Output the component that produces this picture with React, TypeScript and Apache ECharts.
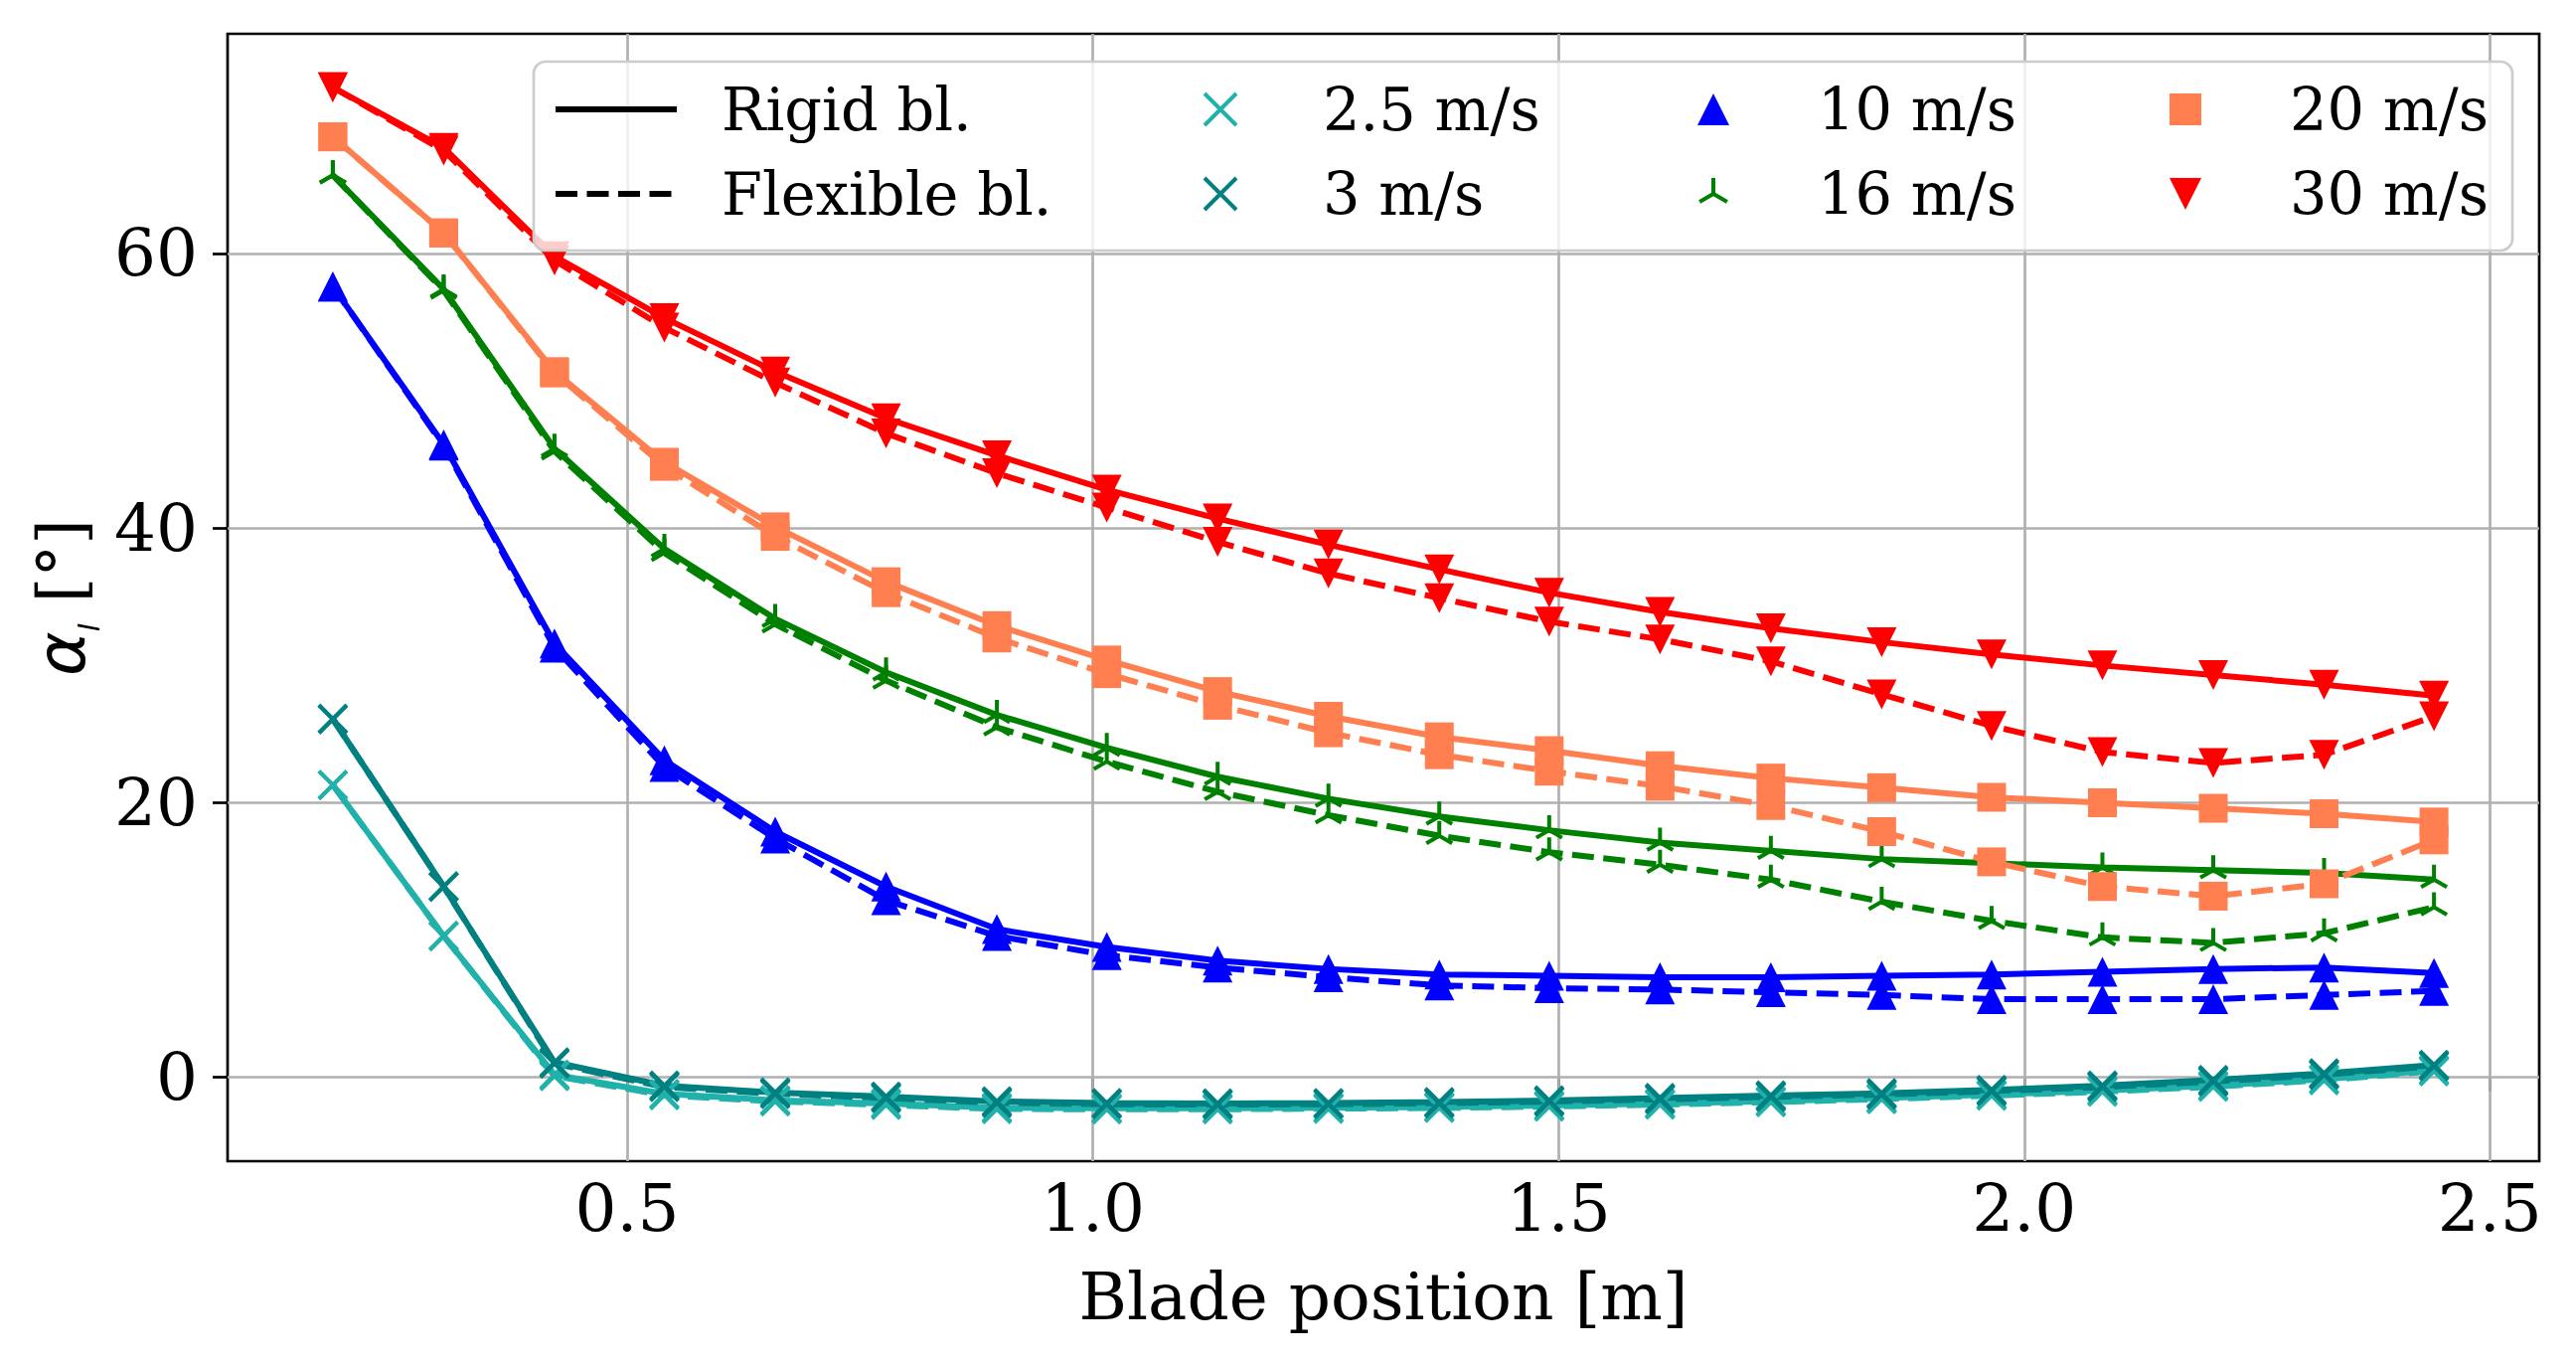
import React, { useEffect, useRef } from 'react'
import * as echarts from 'echarts'

// radial stations along the blade [m]
const bladePositions = [
  0.184, 0.303, 0.422, 0.54, 0.659, 0.778, 0.897, 1.015, 1.134, 1.253,
  1.372, 1.49, 1.609, 1.728, 1.847, 1.965, 2.084, 2.203, 2.322, 2.44
]

// local angle of attack [deg], rigid vs flexible blade
const rigid2_5 = [21.3, 10.3, 0.2, -1.2, -1.66, -1.9, -2.2, -2.24, -2.24, -2.2, -2.15, -2.04, -1.9, -1.73, -1.5, -1.25, -0.96, -0.6, -0.12, 0.53]
const flexible2_5 = [21.3, 10.3, 0.1, -1.3, -1.75, -2.0, -2.3, -2.32, -2.32, -2.28, -2.22, -2.12, -1.98, -1.8, -1.58, -1.33, -1.04, -0.68, -0.2, 0.45]
const rigid3 = [26.1, 13.9, 1.1, -0.6, -1.1, -1.4, -1.75, -1.87, -1.9, -1.87, -1.8, -1.68, -1.5, -1.32, -1.15, -0.91, -0.6, -0.19, 0.29, 0.91]
const flexible3 = [26.1, 13.9, 1.0, -0.7, -1.2, -1.5, -1.85, -1.95, -1.98, -1.95, -1.88, -1.76, -1.6, -1.42, -1.25, -1.0, -0.7, -0.3, 0.2, 0.82]
const rigid10 = [57.6, 46.1, 31.6, 23.1, 17.9, 13.9, 10.8, 9.5, 8.5, 7.9, 7.5, 7.4, 7.3, 7.3, 7.4, 7.5, 7.7, 7.9, 8.0, 7.6]
const flexible10 = [57.6, 46.0, 31.3, 22.6, 17.4, 12.9, 10.3, 8.9, 8.0, 7.3, 6.7, 6.5, 6.4, 6.2, 6.0, 5.7, 5.7, 5.7, 6.0, 6.3]
const rigid16 = [65.7, 57.4, 45.8, 38.5, 33.4, 29.5, 26.4, 24.0, 21.9, 20.3, 19.0, 18.0, 17.1, 16.5, 15.9, 15.6, 15.3, 15.1, 14.9, 14.4]
const flexible16 = [65.7, 57.3, 45.6, 38.2, 33.0, 28.9, 25.5, 23.0, 20.8, 19.1, 17.6, 16.4, 15.5, 14.4, 12.8, 11.4, 10.2, 9.8, 10.5, 12.4]
const rigid20 = [68.5, 61.5, 51.4, 44.8, 40.1, 36.1, 32.9, 30.4, 28.1, 26.3, 24.8, 23.8, 22.7, 21.8, 21.1, 20.4, 20.0, 19.6, 19.2, 18.6]
const flexible20 = [68.5, 61.5, 51.3, 44.5, 39.4, 35.3, 32.0, 29.4, 27.1, 25.1, 23.5, 22.3, 21.2, 19.8, 17.9, 15.7, 13.9, 13.2, 14.1, 17.3]
const rigid30 = [72.1, 67.7, 59.8, 55.3, 51.4, 48.0, 45.3, 42.8, 40.7, 38.8, 37.0, 35.3, 33.9, 32.7, 31.7, 30.8, 30.0, 29.3, 28.6, 27.8]
const flexible30 = [72.1, 67.5, 59.5, 54.6, 50.6, 46.9, 44.0, 41.5, 39.0, 36.7, 34.9, 33.2, 31.9, 30.3, 27.9, 25.6, 23.7, 22.9, 23.5, 26.3]

const xTickValues = [0.5, 1.0, 1.5, 2.0, 2.5]
const yTickValues = [0, 20, 40, 60]

const SERIF = 'DejaVu Serif'
const LINE_W = 6
const DASH = [22, 9.5]

// matplotlib-like markers
const MARK_X = 'path://M0,0L10,10M0,10L10,0'
const MARK_TRI_UP = 'path://M0,0M10,10M5,5L5,0M5,5L0.67,7.5M5,5L9.33,7.5'
const MARK_UP = 'path://M5,0L10,10L0,10Z'
const MARK_DOWN = 'path://M0,0L10,0L5,10Z'
const MARK_SQUARE = 'path://M0,0L10,0L10,10L0,10Z'

const speedRuns = [
  { label: '2.5 m/s', rigid: rigid2_5, flexible: flexible2_5 },
  { label: '3 m/s', rigid: rigid3, flexible: flexible3 },
  { label: '10 m/s', rigid: rigid10, flexible: flexible10 },
  { label: '16 m/s', rigid: rigid16, flexible: flexible16 },
  { label: '20 m/s', rigid: rigid20, flexible: flexible20 },
  { label: '30 m/s', rigid: rigid30, flexible: flexible30 }
]

const speedStyles: Record<string, { color: string; marker: string; size: number; edge: number }> = {
  '2.5 m/s': { color: '#20b2aa', marker: MARK_X, size: 28, edge: 4 },
  '3 m/s': { color: '#008080', marker: MARK_X, size: 28, edge: 4 },
  '10 m/s': { color: '#0000ff', marker: MARK_UP, size: 30, edge: 0 },
  '16 m/s': { color: '#008000', marker: MARK_TRI_UP, size: 30, edge: 4 },
  '20 m/s': { color: '#ff7f50', marker: MARK_SQUARE, size: 29, edge: 0 },
  '30 m/s': { color: '#ff0000', marker: MARK_DOWN, size: 30, edge: 0 }
}

const toPairs = (ys: number[]) => bladePositions.map((x, i) => [x, ys[i]])

const legendText = {
  fontFamily: SERIF,
  fontSize: 59,
  lineHeight: 60,
  color: '#000'
}

const markerLegend = (left: number, pad: number, names: string[]) => ({
  orient: 'vertical',
  left,
  top: 80,
  padding: 0,
  itemWidth: 32,
  itemHeight: 32,
  itemGap: 25,
  selectedMode: false,
  textStyle: { ...legendText, padding: [0, 0, 0, pad] },
  data: names.map((n) => {
    const s = speedStyles[n]
    return {
      name: n,
      icon: s.marker,
      itemStyle: { color: s.color, borderColor: s.color, borderWidth: s.edge, opacity: 1 }
    }
  })
})

const App: React.FC = () => {
  const chartRef = useRef<HTMLDivElement>(null)

  useEffect(() => {
    if (!chartRef.current) return
    const chart = echarts.init(chartRef.current, undefined, { renderer: 'svg' })

    const dataSeries = speedRuns.flatMap((run) => {
      const s = speedStyles[run.label]
      return [run.rigid, run.flexible].map((ys, k) => ({
        type: 'line',
        name: run.label,
        data: toPairs(ys),
        symbol: s.marker,
        symbolSize: s.size,
        z: 3,
        lineStyle: { color: s.color, width: LINE_W, type: k === 0 ? 'solid' : DASH },
        itemStyle: { color: s.color, borderColor: s.color, borderWidth: s.edge },
        emphasis: { disabled: true }
      }))
    })

    const option = {
      animation: false,
      backgroundColor: '#ffffff',
      textStyle: { fontFamily: SERIF },
      grid: {
        left: 229,
        right: 37,
        top: 34,
        bottom: 204,
        show: true,
        borderColor: '#000',
        borderWidth: 2.7,
        backgroundColor: 'transparent'
      },
      xAxis: {
        type: 'value',
        min: 0.071,
        max: 2.553,
        name: 'Blade position [m]',
        nameLocation: 'middle',
        nameGap: 103,
        nameTextStyle: { fontFamily: SERIF, fontSize: 66, lineHeight: 66, color: '#000' },
        axisLine: { show: false },
        splitLine: { show: false },
        axisTick: {
          show: true,
          customValues: xTickValues,
          length: 14,
          lineStyle: { color: '#000', width: 2.7 }
        },
        axisLabel: {
          customValues: xTickValues,
          formatter: (v: number) => v.toFixed(1),
          fontFamily: SERIF,
          fontSize: 66,
          lineHeight: 66,
          color: '#000',
          margin: 14
        }
      },
      yAxis: {
        type: 'value',
        min: -6.1,
        max: 76.0,
        name: '{a|α}{b|l}{c| [°]}',
        nameLocation: 'middle',
        nameGap: 132,
        nameTextStyle: {
          fontFamily: SERIF,
          fontSize: 66,
          color: '#000',
          rich: {
            a: { fontFamily: 'DejaVu Sans', fontStyle: 'italic', fontSize: 68, lineHeight: 66 },
            b: { fontFamily: 'DejaVu Sans', fontStyle: 'italic', fontSize: 28, lineHeight: 28, padding: [58, 0, 0, 0] },
            c: { fontFamily: SERIF, fontSize: 66, lineHeight: 66 }
          }
        },
        axisLine: { show: false },
        splitLine: { show: false },
        axisTick: {
          show: true,
          customValues: yTickValues,
          length: 15,
          lineStyle: { color: '#000', width: 2.7 }
        },
        axisLabel: {
          customValues: yTickValues,
          formatter: (v: number) => String(Math.round(v)),
          fontFamily: SERIF,
          fontSize: 66,
          color: '#000',
          margin: 30
        }
      },
      legend: [
        {
          orient: 'vertical',
          left: 556,
          top: 80,
          padding: 0,
          itemWidth: 122,
          itemHeight: 32,
          itemGap: 25,
          selectedMode: false,
          textStyle: { ...legendText, padding: [0, 0, 0, 40] },
          data: [
            { name: 'Rigid bl.', itemStyle: { opacity: 0 }, lineStyle: { color: '#000', width: LINE_W, type: 'solid' } },
            { name: 'Flexible bl.', itemStyle: { opacity: 0 }, lineStyle: { color: '#000', width: LINE_W, type: DASH } }
          ]
        },
        markerLegend(1210, 82, ['2.5 m/s', '3 m/s']),
        markerLegend(1706, 84, ['10 m/s', '16 m/s']),
        markerLegend(2183, 84, ['20 m/s', '30 m/s'])
      ],
      graphic: [
        {
          type: 'rect',
          z: 4,
          silent: true,
          shape: { x: 537, y: 62, width: 1991, height: 190, r: 12 },
          style: { fill: 'rgba(255,255,255,0.8)', stroke: '#cccccc', lineWidth: 2.7 }
        }
      ],
      series: [
        {
          type: 'line',
          name: 'grid',
          data: [],
          silent: true,
          z: 1,
          markLine: {
            silent: true,
            z: 1,
            symbol: ['none', 'none'],
            label: { show: false },
            lineStyle: { color: '#b0b0b0', width: 2.7, type: 'solid' },
            emphasis: { disabled: true },
            data: [
              ...xTickValues.map((v) => ({ xAxis: v })),
              ...yTickValues.map((v) => ({ yAxis: v }))
            ]
          }
        },
        {
          type: 'line',
          name: 'Rigid bl.',
          data: [],
          symbol: 'none',
          itemStyle: { color: '#000' },
          lineStyle: { color: '#000', width: LINE_W, type: 'solid' }
        },
        {
          type: 'line',
          name: 'Flexible bl.',
          data: [],
          symbol: 'none',
          itemStyle: { color: '#000' },
          lineStyle: { color: '#000', width: LINE_W, type: DASH }
        },
        ...dataSeries
      ]
    }

    chart.setOption(option as any)
    return () => {
      chart.dispose()
    }
  }, [])

  return (
    <div
      ref={chartRef}
      style={{ position: 'absolute', left: 0, top: 0, width: 2592, height: 1372, background: '#fff' }}
    />
  )
}

export default App
